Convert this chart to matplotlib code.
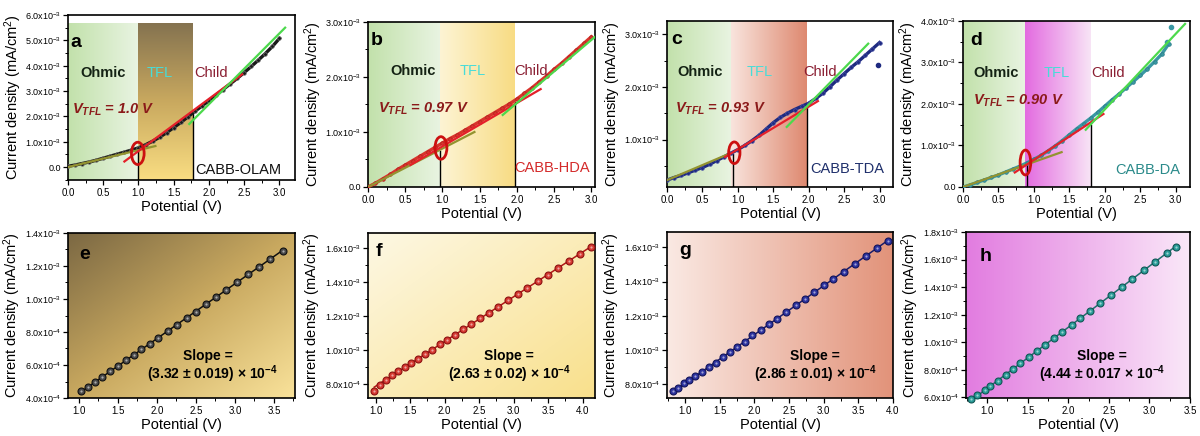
import numpy as np
import matplotlib
matplotlib.use('Agg')
import matplotlib.pyplot as plt
from matplotlib.colors import LinearSegmentedColormap
from matplotlib.patches import Ellipse
from matplotlib.ticker import MultipleLocator, FuncFormatter

plt.rcParams['font.family'] = ['Liberation Sans', 'DejaVu Sans']
plt.rcParams['mathtext.fontset'] = 'custom'
plt.rcParams['mathtext.rm'] = 'Liberation Sans'
plt.rcParams['mathtext.it'] = 'Liberation Sans:italic:bold'
plt.rcParams['mathtext.bf'] = 'Liberation Sans:bold'

# ---- J-V curves (current density in 1e-3 mA/cm^2) ----
V_TOP = [0.0, 0.1, 0.2, 0.3, 0.4, 0.5, 0.6, 0.7, 0.8, 0.9, 1.0,
         1.1, 1.2, 1.3, 1.4, 1.5, 1.6, 1.7, 1.8, 1.9, 2.0,
         2.1, 2.2, 2.3, 2.4, 2.5, 2.6, 2.7, 2.8, 2.9, 3.0]
J_OLAM = [0.03, 0.08, 0.14, 0.20, 0.27, 0.35, 0.43, 0.51, 0.59, 0.67, 0.76,
          0.88, 1.02, 1.18, 1.36, 1.56, 1.76, 1.98, 2.20, 2.41, 2.62,
          2.84, 3.06, 3.28, 3.50, 3.73, 3.97, 4.22, 4.48, 4.76, 5.08]
J_HDA = [0.00, 0.07, 0.15, 0.23, 0.32, 0.40, 0.48, 0.56, 0.64, 0.72, 0.80,
         0.88, 0.95, 1.03, 1.11, 1.19, 1.27, 1.35, 1.43, 1.51, 1.60,
         1.70, 1.80, 1.91, 2.02, 2.14, 2.25, 2.37, 2.49, 2.61, 2.73]
J_TDA = [0.23, 0.28, 0.32, 0.37, 0.42, 0.47, 0.53, 0.60, 0.67, 0.74, 0.81,
         0.89, 0.98, 1.08, 1.20, 1.32, 1.42, 1.50, 1.57, 1.63, 1.69,
         1.78, 1.88, 2.00, 2.13, 2.25, 2.37, 2.48, 2.60, 2.72, 2.84]
V_DA = V_TOP[:30]
J_DA = [0.00, 0.05, 0.11, 0.17, 0.23, 0.29, 0.36, 0.43, 0.50, 0.58, 0.67,
        0.76, 0.87, 0.99, 1.12, 1.26, 1.40, 1.53, 1.66, 1.80, 1.95,
        2.10, 2.24, 2.39, 2.54, 2.69, 2.85, 3.02, 3.20, 3.45]
OUTLIER_TDA = ([2.98], [2.41])
OUTLIER_DA = ([2.88, 2.93], [3.50, 3.85])

# fit segments: (V start, V end, J start, J end)
OHMIC = [(0.0, 1.24, 0.0, 0.83), (0.0, 1.43, 0.0, 1.0),
         (0.0, 0.84, 0.23, 0.71), (0.0, 1.39, 0.0, 0.84)]
TFL = [(0.80, 2.47, 0.22, 3.66), (0.57, 2.32, 0.40, 1.78),
       (0.82, 2.13, 0.67, 1.73), (0.73, 1.98, 0.35, 1.76)]
CHILD = [(1.72, 3.08, 1.70, 5.50), (1.81, 3.05, 1.31, 2.73),
         (1.69, 2.84, 1.24, 2.82), (1.73, 3.13, 1.38, 3.93)]

V_TFL = [1.0, 0.97, 0.93, 0.90]
V_TFL_LABEL = ['1.0', '0.97', '0.93', '0.90']
V_TFL_TOP = [0.76, 0.66, 0.73, 0.60]
V_CHILD = [1.77, 1.97, 1.97, 1.80]
V_CHILD_TOP = [2.20, 1.54, 1.59, 1.50]
SAMPLES = ['CABB-OLAM', 'CABB-HDA', 'CABB-TDA', 'CABB-DA']

# ---- linear J-V of the SCLC region (current density in 1e-4 mA/cm^2) ----
V_E = [1.03, 1.12, 1.21, 1.30, 1.40, 1.50, 1.60, 1.70, 1.80, 1.91, 2.02, 2.14,
       2.26, 2.38, 2.50, 2.63, 2.76, 2.89, 3.03, 3.17, 3.31, 3.45, 3.61]
J_E = [4.40, 4.66, 4.97, 5.27, 5.62, 5.93, 6.29, 6.58, 6.95, 7.28, 7.66, 8.05,
       8.44, 8.87, 9.24, 9.70, 10.10, 10.56, 11.00, 11.50, 11.93, 12.40, 12.90]
V_F = [0.98, 1.06, 1.15, 1.24, 1.33, 1.42, 1.52, 1.62, 1.72, 1.82, 1.93, 2.04, 2.15, 2.27,
       2.39, 2.52, 2.65, 2.78, 2.92, 3.06, 3.20, 3.35, 3.50, 3.65, 3.80, 3.96, 4.12]
J_F = [7.62, 7.98, 8.26, 8.54, 8.78, 9.03, 9.24, 9.52, 9.77, 10.05, 10.36, 10.62, 10.93, 11.25,
       11.55, 11.90, 12.22, 12.56, 12.95, 13.30, 13.68, 14.08, 14.46, 14.86, 15.26, 15.66, 16.05]
V_G = [0.82, 0.90, 0.99, 1.06, 1.15, 1.24, 1.34, 1.44, 1.55, 1.65, 1.75, 1.86, 1.97, 2.09,
       2.21, 2.33, 2.46, 2.60, 2.73, 2.86, 3.01, 3.14, 3.29, 3.45, 3.61, 3.77, 3.93]
J_G = [7.60, 7.78, 8.05, 8.24, 8.47, 8.72, 9.00, 9.27, 9.60, 9.90, 10.18, 10.50, 10.90, 11.18,
       11.52, 11.80, 12.22, 12.62, 12.98, 13.38, 13.80, 14.17, 14.58, 15.03, 15.50, 15.95, 16.35]
V_H = [0.80, 0.88, 0.97, 1.04, 1.13, 1.23, 1.32, 1.41, 1.52, 1.61, 1.71, 1.82,
       1.92, 2.04, 2.15, 2.27, 2.39, 2.53, 2.66, 2.79, 2.93, 3.07, 3.22, 3.33]
J_H = [5.88, 6.15, 6.53, 6.83, 7.22, 7.65, 8.06, 8.46, 8.95, 9.35, 9.79, 10.28,
       10.72, 11.26, 11.74, 12.28, 12.81, 13.43, 14.01, 14.59, 15.21, 15.83, 16.50, 16.93]
SLOPES = [3.32, 2.63, 2.86, 4.44]
SLOPE_ERR = ['0.019', '0.02', '0.01', '0.017']
INTERCEPTS = [0.96, 5.26, 5.18, 2.20]


def sci_label(v, pos):
    if abs(v) < 1e-12:
        return '0.0'
    exp = int(np.floor(np.log10(abs(v)) + 1e-9))
    return r'$%.1f\mathrm{x}10^{%d}$' % (v / 10.0 ** exp, exp)


def gradient(ax, extent, colors, kind, transform=None):
    n = 200
    xx, yy = np.meshgrid(np.linspace(0, 1, n), np.linspace(0, 1, n))
    t = {'h': xx, 'v': yy, 'd': (xx + yy) / 2}[kind]
    cmap = LinearSegmentedColormap.from_list('bg', colors)
    kw = {} if transform is None else {'transform': transform}
    ax.imshow(t, cmap=cmap, extent=extent, origin='upper', aspect='auto',
              interpolation='bilinear', zorder=0, **kw)


def style_axes(ax, xmajor, ymajor):
    ax.xaxis.set_major_locator(MultipleLocator(xmajor))
    ax.xaxis.set_minor_locator(MultipleLocator(xmajor / 2))
    ax.yaxis.set_major_locator(MultipleLocator(ymajor))
    ax.yaxis.set_minor_locator(MultipleLocator(ymajor / 2))
    ax.yaxis.set_major_formatter(FuncFormatter(sci_label))
    ax.tick_params(which='major', direction='out', length=3.5, width=0.9, labelsize=7, pad=2)
    ax.tick_params(axis='y', which='major', labelsize=6.5, pad=1.5)
    ax.tick_params(which='minor', direction='out', length=2, width=0.7)
    for s in ax.spines.values():
        s.set_linewidth(1.2)
    ax.set_xlabel('Potential (V)', fontsize=10.5, labelpad=2)
    ax.set_ylabel('Current density (mA/cm$^2$)', fontsize=10.5, labelpad=1)


fig = plt.figure(figsize=(12, 4.36), dpi=100)


def add_axes(l, t, r, b):
    return fig.add_axes([l / 1200, 1 - b / 436, (r - l) / 1200, (b - t) / 436])


# ---------------- top row ----------------
top_boxes = [(68, 15, 295, 180), (368, 22, 595, 187), (667, 21, 893, 187), (963, 21, 1190, 187)]
top_xlim = [(0, 3.22), (0, 3.05), (0, 3.19), (0, 3.2)]
top_ylim = [(-0.51, 6.0), (0, 3.0), (0.1, 3.25), (0, 4.0)]
band_top = [5.66, 3.0, 3.25, 4.0]
band_colors = [(['#857350', '#c9a95f', '#f9dd82'], 'v'),
               (['#fdf4d4', '#f8dc84'], 'h'),
               (['#f9e4dd', '#de8970'], 'h'),
               (['#e36be0', '#f8e4f6'], 'h')]
curves = [(V_TOP, J_OLAM, '#1a1a1a', '#777777'), (V_TOP, J_HDA, '#d8342c', '#b01e1e'),
          (V_TOP, J_TDA, '#1e2a80', '#4a52a8'), (V_DA, J_DA, '#3a98a4', '#2a7a84')]
sample_colors = ['#111111', '#d42a2a', '#1e2f6b', '#2a8a8a']
letters_top = ['a', 'b', 'c', 'd']
letter_pos = [(0.11, 4.93), (0.11, 2.66), (0.14, 2.89), (0.19, 3.54)]
region_y = [3.70, 2.10, 2.28, 2.74]
region_x = [(0.50, 1.30, 2.03), (0.61, 1.40, 2.19), (0.47, 1.31, 2.16), (0.47, 1.32, 2.05)]
vtfl_pos = [(0.64, 2.26), (0.75, 1.42), (0.75, 1.59), (0.78, 2.07)]
sample_pos = [(2.41, -0.10), (2.47, 0.35), (2.55, 0.45), (2.61, 0.41)]
ellipses = [(0.99, 0.54, 0.18, 0.88), (0.98, 0.71, 0.16, 0.41),
            (0.95, 0.75, 0.16, 0.41), (0.88, 0.59, 0.15, 0.60)]

for i in range(4):
    ax = add_axes(*top_boxes[i])
    y0 = top_ylim[i][0] * 1e-3
    yt = band_top[i] * 1e-3
    # Ohmic band, then the trap-filling band up to the Child onset
    x1 = V_TFL[i] if i < 2 else V_TFL[i] - 0.02
    gradient(ax, [0, x1, y0, yt], ['#c2e1ab', '#e9f4e2'], 'h')
    cols, kind = band_colors[i]
    gradient(ax, [x1, V_CHILD[i], y0, yt], cols, kind)

    v, j, c, ec = curves[i]
    ax.plot(v, np.array(j) * 1e-3, '-', color=c, lw=2.4, zorder=3)
    ax.plot(v, np.array(j) * 1e-3, 'o', ms=2.6, mfc=c, mec=ec, mew=0.5, zorder=3)
    if i == 2:
        ax.plot(OUTLIER_TDA[0], np.array(OUTLIER_TDA[1]) * 1e-3, 'o', ms=3, color=c, zorder=3)
    if i == 3:
        ax.plot(OUTLIER_DA[0], np.array(OUTLIER_DA[1]) * 1e-3, 'o', ms=3, color=c, zorder=3)

    for seg, col in [(OHMIC[i], '#939330'), (TFL[i], '#e4202a'), (CHILD[i], '#4cd94c')]:
        ax.plot(seg[:2], np.array(seg[2:]) * 1e-3, color=col, lw=1.6, zorder=4)

    ax.plot([V_TFL[i], V_TFL[i]], [y0, V_TFL_TOP[i] * 1e-3], color='black', lw=1.0, zorder=2)
    ax.plot([V_CHILD[i], V_CHILD[i]], [y0, V_CHILD_TOP[i] * 1e-3], color='black', lw=1.0, zorder=2)

    ex, ey, ew, eh = ellipses[i]
    ax.add_patch(Ellipse((ex, ey * 1e-3), ew, eh * 1e-3, fill=False,
                         ec='#cc1010', lw=2.0, zorder=5))

    lx, ly = letter_pos[i]
    ax.text(lx, ly * 1e-3, letters_top[i], fontsize=14, fontweight='bold', ha='center', va='center')
    rx = region_x[i]
    ax.text(rx[0], region_y[i] * 1e-3, 'Ohmic', fontsize=10.5, fontweight='bold',
            color='#142214', ha='center', va='center')
    ax.text(rx[1], region_y[i] * 1e-3, 'TFL', fontsize=10.5, color='#48dcd8', ha='center', va='center')
    ax.text(rx[2], region_y[i] * 1e-3, 'Child', fontsize=10.5, color='#8a1e32', ha='center', va='center')
    vx, vy = vtfl_pos[i]
    ax.text(vx, vy * 1e-3, r'$V_{TFL}$ = %s V' % V_TFL_LABEL[i], fontsize=10.5, fontweight='bold',
            fontstyle='italic', color='#8b1a1a', ha='center', va='center')
    sx, sy = sample_pos[i]
    ax.text(sx, sy * 1e-3, SAMPLES[i], fontsize=10.5, color=sample_colors[i], ha='center', va='center')

    ax.set_xlim(*top_xlim[i])
    ax.set_ylim(top_ylim[i][0] * 1e-3, top_ylim[i][1] * 1e-3)
    style_axes(ax, 0.5, 1e-3)

# ---------------- bottom row ----------------
bot_boxes = [(68, 233, 295, 398), (368, 233, 595, 398), (667, 232, 893, 398), (966, 232, 1190, 398)]
bot_xlim = [(0.86, 3.77), (0.89, 4.18), (0.74, 4.0), (0.74, 3.5)]
bot_ylim = [(4.0, 14.0), (7.2, 16.9), (7.2, 16.9), (5.95, 18.0)]
bot_bg = [(['#7b6843', '#c8a85f', '#f9e29a'], 'd'),
          (['#fdf8e4', '#f9e08c'], 'd'),
          (['#fae9e3', '#e2937a'], 'h'),
          (['#e27ce0', '#fae7f8'], 'h')]
bot_data = [(V_E, J_E), (V_F, J_F), (V_G, J_G), (V_H, J_H)]
bot_colors = [('#4a4a4a', '#111111', '#111111'), ('#d63a32', '#8c1010', '#b01818'),
              ('#2e34a0', '#12145a', '#1a1c6a'), ('#2a9c98', '#0f5654', '#1f6f6c')]
letters_bot = ['e', 'f', 'g', 'h']
bot_letter_pos = [(0.05, 0.87), (0.035, 0.89), (0.055, 0.89), (0.06, 0.855)]
slope_pos = [(0.617, 0.637), (0.62, 0.622), (0.655, 0.655), (0.606, 0.606)]

for i in range(4):
    ax = add_axes(*bot_boxes[i])
    cols, kind = bot_bg[i]
    gradient(ax, [0, 1, 0, 1], cols, kind, transform=ax.transAxes)

    v, j = bot_data[i]
    fc, ec, lc = bot_colors[i]
    xs = np.array([v[0], v[-1]])
    ax.plot(xs, (INTERCEPTS[i] + SLOPES[i] * xs) * 1e-4, color=lc, lw=1.1, zorder=3)
    ax.plot(v, np.array(j) * 1e-4, 'o', ms=5, mfc=fc, mec=ec, mew=0.8, zorder=4, clip_on=False)
    ax.plot(v, np.array(j) * 1e-4, 'o', ms=1.6, mfc='white', mec='none', alpha=0.55, zorder=5, clip_on=False)

    lx, ly = bot_letter_pos[i]
    ax.text(lx, ly, letters_bot[i], transform=ax.transAxes, fontsize=14, fontweight='bold',
            ha='left', va='center')
    sx1, sx2 = slope_pos[i]
    ax.text(sx1, 0.255, 'Slope =', transform=ax.transAxes, fontsize=10, fontweight='bold',
            ha='center', va='center')
    close = ')' if i < 3 else ''
    ax.text(sx2, 0.145, '(%.2f \u00b1 %s%s \u00d7 $\\mathbf{10^{-4}}$' % (SLOPES[i], SLOPE_ERR[i], close),
            transform=ax.transAxes, fontsize=10, fontweight='bold', ha='center', va='center')

    ax.set_xlim(*bot_xlim[i])
    ax.set_ylim(bot_ylim[i][0] * 1e-4, bot_ylim[i][1] * 1e-4)
    style_axes(ax, 0.5, 2e-4)

fig.savefig('out.png', dpi=100)
